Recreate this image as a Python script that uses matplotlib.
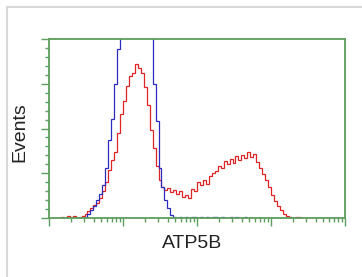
import numpy as np
import matplotlib
matplotlib.use("Agg")
import matplotlib.pyplot as plt
from matplotlib.lines import Line2D
from matplotlib.ticker import MultipleLocator, LogLocator, NullFormatter

# Flow cytometry histogram: 100 log channels over 4 decades
edges = np.logspace(0, 4, 101)

# Isotype / control (blue)
control_counts = [
    0, 0, 0, 0, 0, 0, 0, 0, 0, 0,
    0, 0, 1, 4, 8, 12, 18, 24, 33, 50,
    78, 100, 135, 170, 205, 230, 240, 245, 250, 248,
    240, 235, 228, 215, 190, 135, 98, 50, 31, 18,
    10, 3, 1, 0, 1, 0, 1, 0, 1, 1,
    0, 1, 0, 1, 0, 1, 1, 0, 1, 0,
    0, 1, 0, 1, 0, 0, 1, 0, 0, 0,
    0, 0, 0, 0, 0, 0, 0, 0, 0, 0,
    0, 0, 0, 0, 0, 0, 0, 0, 0, 0,
    0, 0, 0, 0, 0, 0, 0, 0, 0, 0,
]

# ATP5B stained sample (red)
sample_counts = [
    0, 0, 0, 0, 1, 0, 2, 1, 2, 0,
    1, 2, 4, 7, 10, 13, 15, 20, 27, 36,
    48, 58, 66, 85, 105, 118, 133, 143, 146, 155,
    151, 146, 132, 114, 88, 70, 52, 38, 31, 28,
    30, 26, 28, 24, 27, 21, 23, 20, 29, 27,
    36, 33, 38, 34, 42, 45, 47, 52, 50, 57,
    54, 59, 55, 62, 58, 63, 60, 66, 61, 64,
    56, 50, 44, 38, 31, 23, 17, 12, 8, 4,
    2, 1, 0, 1, 1, 0, 0, 0, 0, 0,
    0, 0, 0, 0, 0, 0, 0, 0, 0, 0,
]

green = "#5c9e5c"

fig = plt.figure(figsize=(3.62, 2.77), dpi=100)
ax = fig.add_axes([49 / 362, 1 - 218 / 277, 296 / 362, 179 / 277])

ax.stairs(sample_counts, edges, color="#e02424", linewidth=0.9)
ax.stairs(control_counts, edges, color="#2b2bbf", linewidth=0.9)

ax.set_xscale("log")
ax.set_xlim(1, 1e4)
ax.set_ylim(0, 180)

ax.xaxis.set_major_locator(LogLocator(base=10))
ax.xaxis.set_minor_locator(LogLocator(base=10, subs=np.arange(2, 10)))
ax.xaxis.set_major_formatter(NullFormatter())
ax.xaxis.set_minor_formatter(NullFormatter())
ax.yaxis.set_major_locator(MultipleLocator(45))
ax.yaxis.set_minor_locator(MultipleLocator(9))
ax.yaxis.set_major_formatter(NullFormatter())

ax.tick_params(which="both", direction="out", color=green, width=1.0)
ax.tick_params(which="major", length=6)
ax.tick_params(which="minor", length=3)

for s in ax.spines.values():
    s.set_color(green)
    s.set_linewidth(1.3)

# Axis titles
fig.text(20 / 362, 1 - 132 / 277, "Events", rotation=90, ha="center", va="center",
         fontsize=14, family="Liberation Sans", color="#222222")
fig.text(192 / 362, 1 - 243 / 277, "ATP5B", ha="center", va="center",
         fontsize=14, family="Liberation Sans", color="#222222")

# light grey frame around the image
fig.add_artist(Line2D([7 / 362, 1], [1 - 7 / 277, 1 - 7 / 277], color="#d9d9d9", lw=1.5))
fig.add_artist(Line2D([7 / 362, 7 / 362], [0, 1 - 7 / 277], color="#d9d9d9", lw=1.5))

fig.savefig("out.png", dpi=100)
